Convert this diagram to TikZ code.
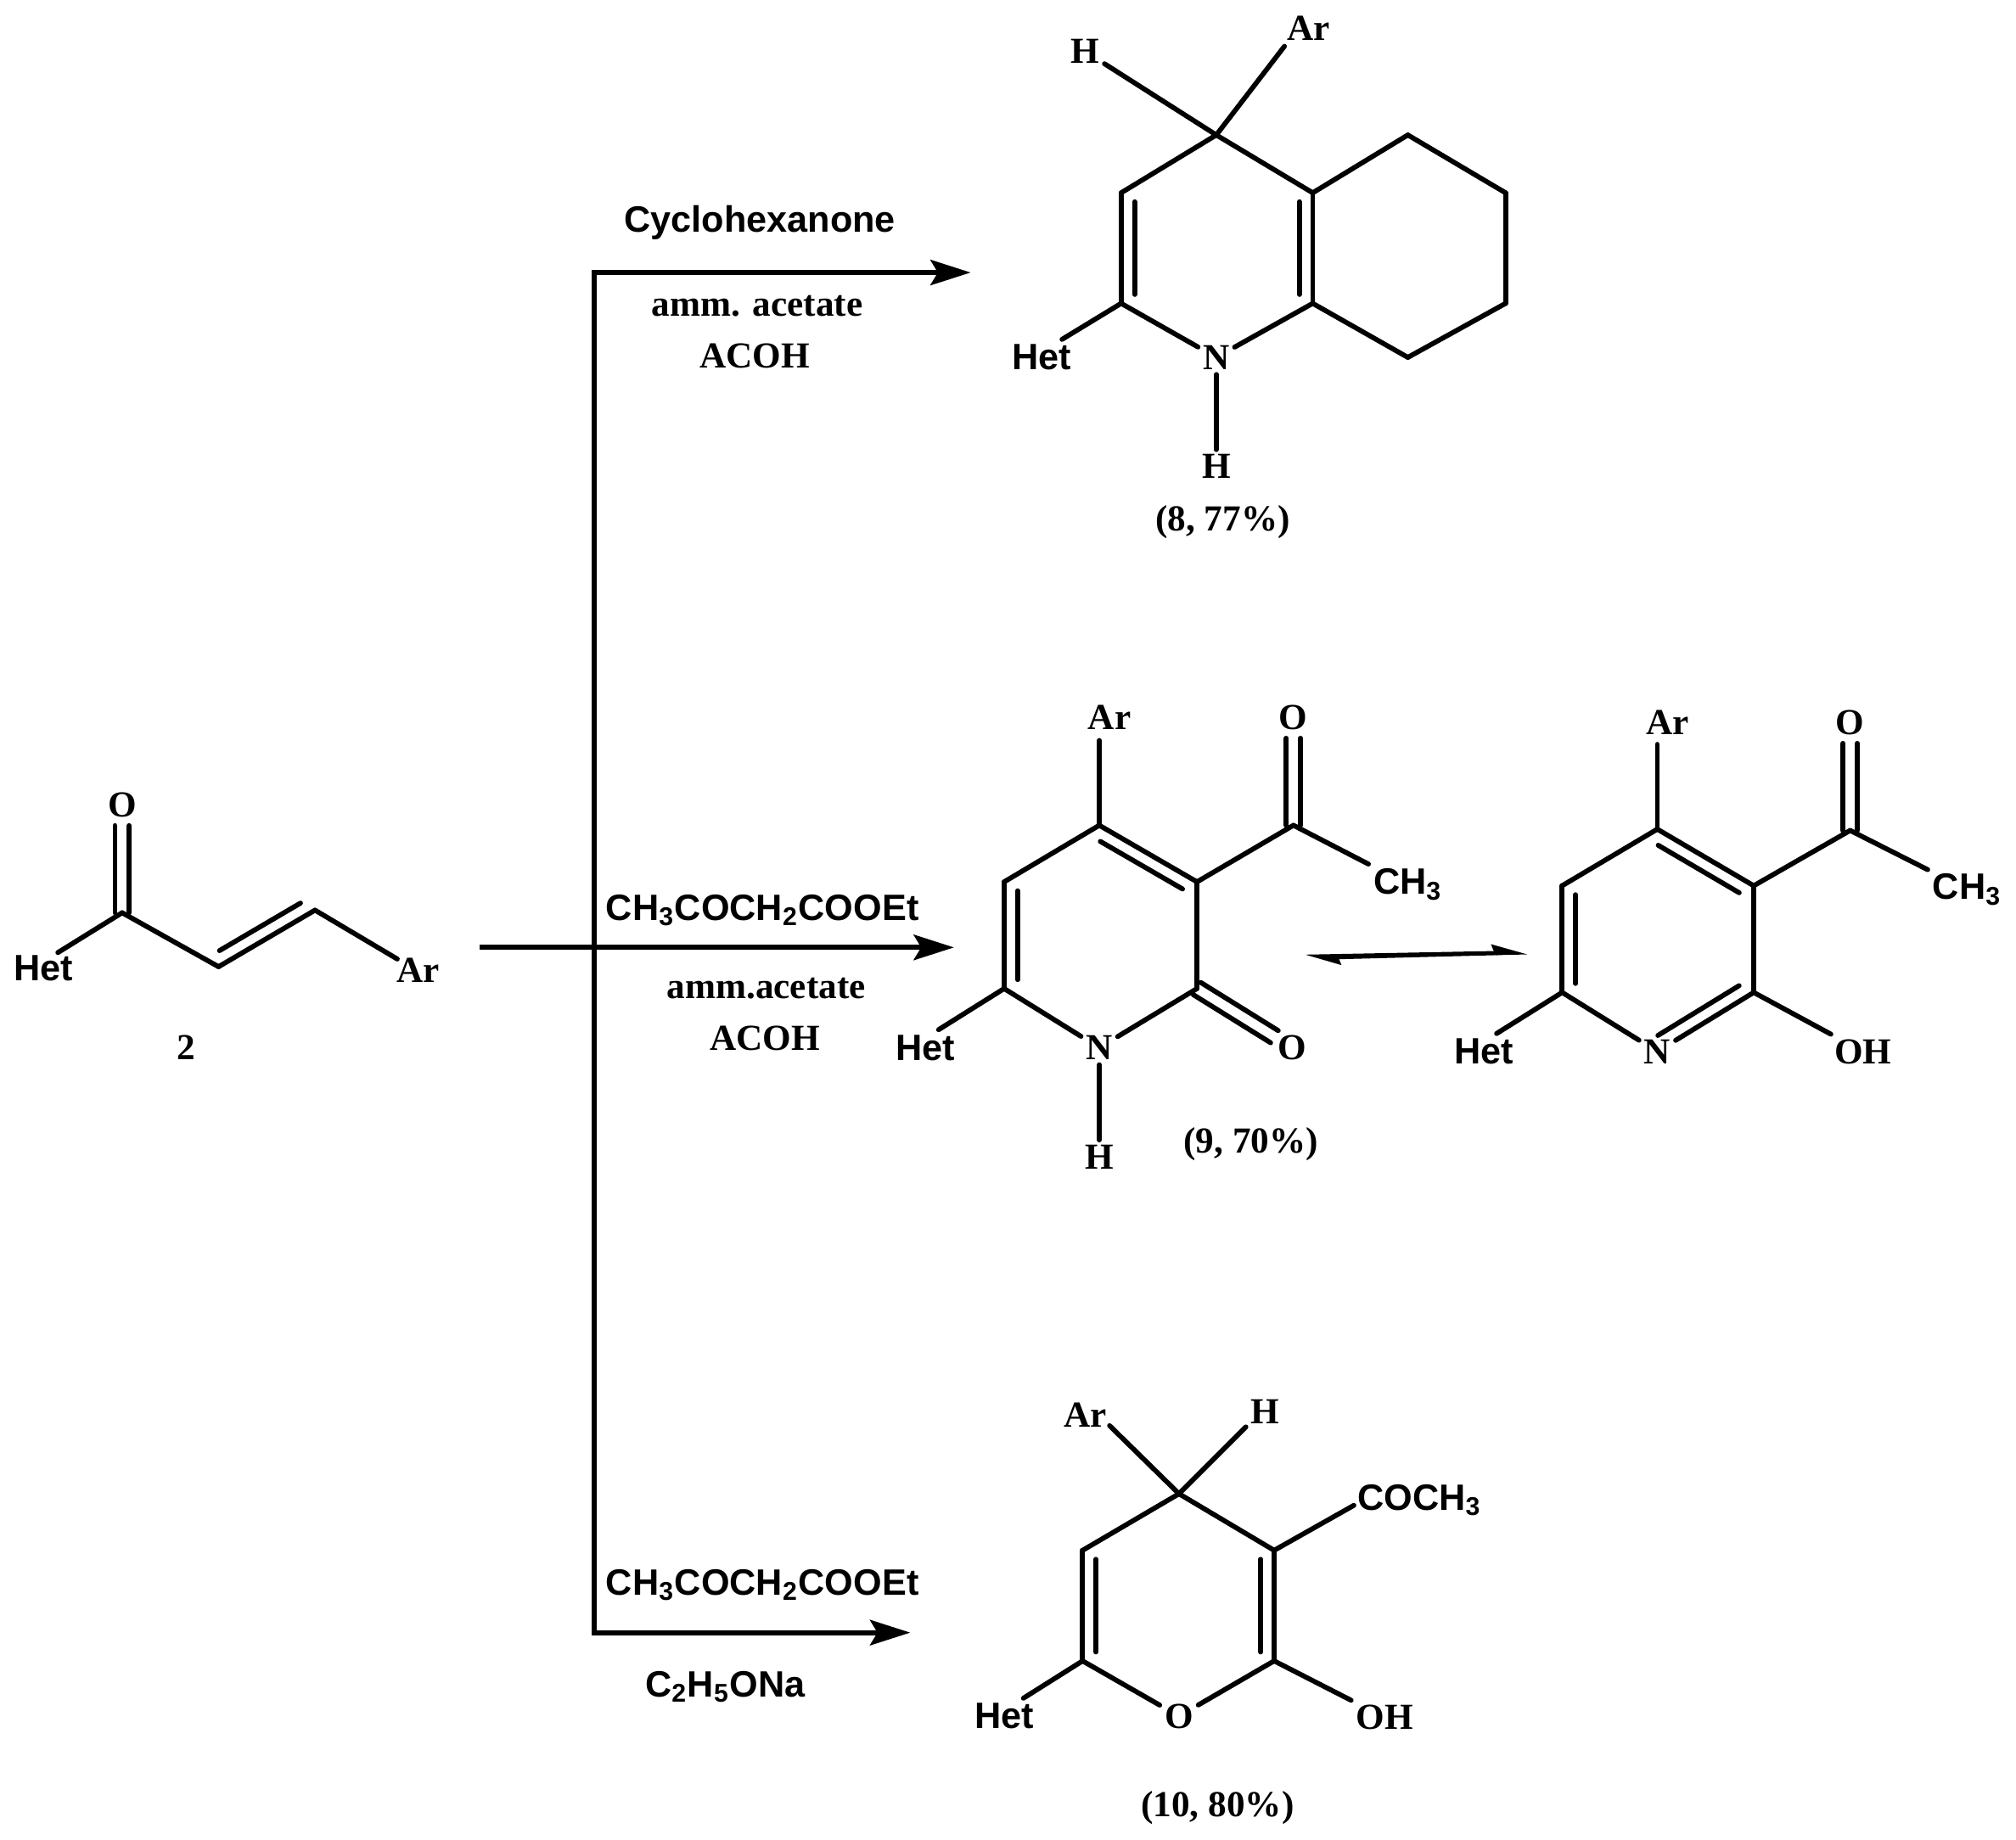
\documentclass[tikz,border=0pt]{standalone}
\usepackage{fontspec}
\setmainfont{Liberation Serif}
\setsansfont{Liberation Sans}
\usepackage{tikz}
\usetikzlibrary{calc,arrows.meta}

\tikzset{
  bond/.style={line width=1.65pt,line cap=round,line join=round},
  rxn/.style={line width=1.65pt},
  atom/.style={font=\rmfamily\bfseries\fontsize{12.3}{14}\selectfont,inner sep=1.5pt},
  group/.style={font=\sffamily\bfseries\fontsize{12.3}{14}\selectfont,inner sep=1.5pt},
  head/.style={-{Stealth[length=13.5pt,width=8.5pt,inset=2.5pt]}},
  halfhead/.style={-{Stealth[harpoon,length=10pt,width=6pt,inset=1pt]}}
}
% second line of a double bond, on the left of #1 -> #2
\newcommand{\innerbond}[2]{\draw[bond,shorten <=3pt,shorten >=3pt] ($(#1)!4.5pt!90:(#2)$) -- ($(#2)!4.5pt!-90:(#1)$);}
% C=O, both lines beside the axis
\newcommand{\ketobond}[2]{
    \draw[bond,shorten >=7pt] ($(#1)!2.4pt!90:(#2)$) -- ($(#2)!2.4pt!-90:(#1)$);
    \draw[bond,shorten >=7pt] ($(#1)!2.4pt!-90:(#2)$) -- ($(#2)!2.4pt!90:(#1)$);}

\begin{document}
\begin{tikzpicture}[x=0.015147cm,y=-0.015147cm]
    \useasboundingbox (0,0) rectangle (1568,1431);

    % starting material
    \node[atom] (sO) at (95,626) {O};
    \node[group] (sHet) at (34,753) {Het};
    \node[atom] (sAr) at (325,755) {Ar};
    \node[atom] (sno) at (145,815) {2};
    \coordinate (s1) at (95,710);
    \coordinate (s2) at (170,752);
    \coordinate (s3) at (245,708);
    \coordinate (sHetb) at (45,741);
    \coordinate (sArb) at (309,746);
    \foreach \u / \v in {s1/sHetb,s1/s2,s2/s3,s3/sArb}
        \draw[bond] (\u) -- (\v);
    \ketobond{s1}{sO}
    \innerbond{s2}{s3}

    % reaction lines
    \coordinate (top) at (462,212);
    \coordinate (bot) at (462,1270);
    \coordinate (in) at (373,737);
    \coordinate (topend) at (755,212);
    \coordinate (midend) at (742,737);
    \coordinate (botend) at (708,1270);
    \draw[rxn,line cap=rect] (top) -- (bot);
    \foreach \u / \v in {top/topend,in/midend,bot/botend}
        \draw[rxn,head] (\u) -- (\v);

    % reagents
    \node[group] (r1) at (591,173) {Cyclohexanone};
    \node[atom] (r2) at (589,238) {amm. acetate};
    \node[atom] (r3) at (587,277) {ACOH};
    \node[group] (r4) at (593,708) {CH\textsubscript{3}COCH\textsubscript{2}COOEt};
    \node[atom] (r5) at (596,769) {amm.acetate};
    \node[atom] (r6) at (595,808) {ACOH};
    \node[group] (r7) at (593,1233) {CH\textsubscript{3}COCH\textsubscript{2}COOEt};
    \node[group] (r8) at (564,1312) {C\textsubscript{2}H\textsubscript{5}ONa};

    % product 8
    \node[atom] (tH) at (844,40) {H};
    \node[atom] (tAr) at (1018,22) {Ar};
    \node[group] (tHet) at (810,278) {Het};
    \node[atom] (tN) at (946,278) {N};
    \node[atom] (tNH) at (946,363) {H};
    \node[atom] (tno) at (951,406) {(8, 77\%)};
    \coordinate (t4) at (946,105);
    \coordinate (t4a) at (1021,150);
    \coordinate (t8a) at (1021,236);
    \coordinate (t2) at (872,236);
    \coordinate (t3) at (872,150);
    \coordinate (t5) at (1095,105);
    \coordinate (t6) at (1171,150);
    \coordinate (t7) at (1171,236);
    \coordinate (t8) at (1095,278);
    \coordinate (tArb) at (999,36);
    \coordinate (tHetb) at (826,264);
    \foreach \u / \v in {t4/tH,t4/tArb,t4/t4a,t4a/t8a,t8a/tN,tN/t2,t2/t3,t3/t4,
                         t4a/t5,t5/t6,t6/t7,t7/t8,t8/t8a,t2/tHetb,tN/tNH}
        \draw[bond] (\u) -- (\v);
    \innerbond{t3}{t2}
    \innerbond{t8a}{t4a}

    % product 9
    \node[atom] (mAr) at (863,558) {Ar};
    \node[atom] (mO) at (1006,558) {O};
    \node[group] (mMe) at (1095,688) {CH\textsubscript{3}};
    \node[atom] (mO2) at (1005,815) {O};
    \node[atom] (mN) at (855,815) {N};
    \node[atom] (mNH) at (855,900) {H};
    \node[group] (mHet) at (720,815) {Het};
    \node[atom] (mno) at (973,890) {(9, 70\%)};
    \coordinate (m4) at (855,642);
    \coordinate (m3) at (931,686);
    \coordinate (m2) at (931,769);
    \coordinate (m6) at (781,769);
    \coordinate (m5) at (781,686);
    \coordinate (mC) at (1006,642);
    \coordinate (mArb) at (855,576);
    \coordinate (mHetb) at (730,801);
    \foreach \u / \v in {m4/m3,m3/m2,m2/mN,mN/m6,m6/m5,m5/m4,m4/mArb,m3/mC,mC/mMe,
                         m6/mHetb,mN/mNH}
        \draw[bond] (\u) -- (\v);
    \innerbond{m5}{m6}
    \innerbond{m3}{m4}
    \ketobond{mC}{mO}
    \ketobond{m2}{mO2}

    % tautomer arrows
    \coordinate (eqa) at (1015,744);
    \coordinate (eqb) at (1172,741);
    \coordinate (eqc) at (1032,745);
    \coordinate (eqd) at (1188,741);
    \draw[rxn,line width=1.2pt,halfhead] (eqb) -- (eqa);
    \draw[rxn,line width=1.2pt,halfhead] (eqc) -- (eqd);

    % tautomer of 9
    \node[atom] (hAr) at (1297,562) {Ar};
    \node[atom] (hO) at (1439,562) {O};
    \node[group] (hMe) at (1530,692) {CH\textsubscript{3}};
    \node[atom] (hOH) at (1449,818) {OH};
    \node[atom] (hN) at (1289,818) {N};
    \node[group] (hHet) at (1154,818) {Het};
    \coordinate (h4) at (1289,645);
    \coordinate (h3) at (1364,689);
    \coordinate (h2) at (1364,772);
    \coordinate (h6) at (1215,772);
    \coordinate (h5) at (1215,689);
    \coordinate (hC) at (1439,646);
    \coordinate (hArb) at (1289,579);
    \coordinate (hHetb) at (1164,804);
    \foreach \u / \v in {h4/h3,h3/h2,h2/hN,hN/h6,h6/h5,h5/h4,h4/hArb,h3/hC,hC/hMe,
                         h2/hOH,h6/hHetb}
        \draw[bond] (\u) -- (\v);
    \innerbond{h5}{h6}
    \innerbond{h3}{h4}
    \ketobond{hC}{hO}
    \innerbond{hN}{h2}

    % product 10
    \node[atom] (bAr) at (844,1101) {Ar};
    \node[atom] (bH) at (984,1098) {H};
    \node[group] (bAc) at (1104,1167) {COCH\textsubscript{3}};
    \node[atom] (bOH) at (1077,1336) {OH};
    \node[atom] (bO) at (917,1335) {O};
    \node[group] (bHet) at (781,1335) {Het};
    \node[atom] (bno) at (947,1406) {(10, 80\%)};
    \coordinate (b4) at (917,1162);
    \coordinate (b3) at (991,1206);
    \coordinate (b2) at (991,1292);
    \coordinate (b6) at (842,1292);
    \coordinate (b5) at (842,1206);
    \coordinate (bArb) at (863,1109);
    \coordinate (bHb) at (969,1110);
    \coordinate (bAcb) at (1053,1171);
    \coordinate (bHetb) at (796,1321);
    \foreach \u / \v in {b4/b3,b3/b2,b2/bO,bO/b6,b6/b5,b5/b4,b4/bArb,b4/bHb,b3/bAcb,b2/bOH,b6/bHetb}
        \draw[bond] (\u) -- (\v);
    \innerbond{b2}{b3}
    \innerbond{b5}{b6}
\end{tikzpicture}
\end{document}
